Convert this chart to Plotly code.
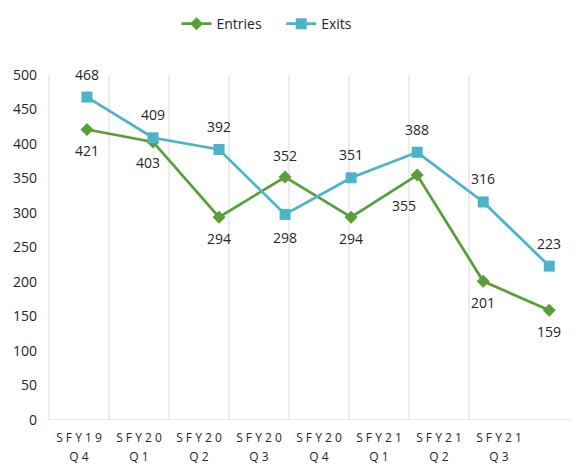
import plotly.graph_objects as go

cat_line1 = ["SFY19", "SFY20", "SFY20", "SFY20", "SFY20", "SFY21", "SFY21", "SFY21"]
cat_line2 = ["Q4", "Q1", "Q2", "Q3", "Q4", "Q1", "Q2", "Q3"]
entries = [421, 403, 294, 352, 294, 355, 201, 159]
exits = [468, 409, 392, 298, 351, 388, 316, 223]
entries_side = ["below", "below", "below", "above", "below", "below", "below", "below"]
exits_side = ["above", "above", "above", "below", "above", "above", "above", "above"]
y_ticks = [0, 50, 100, 150, 200, 250, 300, 350, 400, 450, 500]

GREEN = "#5A9E38"
TEAL = "#4BB5C8"
TXT = "#262626"
LBL_FONT = dict(size=14, color=TXT, family="Open Sans")

def spaced(s):
    return " ".join(s)

idx = list(range(len(cat_line1)))

fig = go.Figure()
fig.add_trace(go.Scatter(
    x=idx, y=entries, name="Entries\u00a0\u00a0\u00a0\u00a0", mode="lines+markers",
    line=dict(color=GREEN, width=2.75), marker=dict(symbol="diamond", size=10, color=GREEN),
    cliponaxis=False))
fig.add_trace(go.Scatter(
    x=idx, y=exits, name="Exits", mode="lines+markers",
    line=dict(color=TEAL, width=2.75), marker=dict(symbol="square", size=11, color=TEAL),
    cliponaxis=False))

# data labels
for i in idx:
    dx = -13 if i == 5 else (-5 if i == 1 else 0)
    dy = -30 if i == 5 else (22 if entries_side[i] == "above" else -21)
    fig.add_annotation(x=i, y=entries[i], text=str(entries[i]), showarrow=False,
                       xshift=dx, yshift=dy, font=LBL_FONT)
    fig.add_annotation(x=i, y=exits[i], text=str(exits[i]), showarrow=False,
                       yshift=23 if exits_side[i] == "above" else -23, font=LBL_FONT)

fig.update_layout(
    width=572, height=461, paper_bgcolor="white", plot_bgcolor="white",
    margin=dict(l=40, r=3, t=67, b=49, autoexpand=False),
    font=dict(family="Open Sans", color=TXT),
    showlegend=True,
    legend=dict(orientation="h", x=0.414, xanchor="center", y=1.194, yanchor="top",
                font=dict(size=14, color=TXT), itemwidth=30, tracegroupgap=0),
    xaxis=dict(range=[-0.59, 7.42], showgrid=False, showticklabels=False,
               zeroline=False, showline=False, ticks="", automargin=False),
    xaxis2=dict(overlaying="x", side="bottom", range=[-0.517, 8.3],
                tickmode="array", tickvals=idx, ticktext=[spaced(c) for c in cat_line1],
                showgrid=False, showline=False, zeroline=False, ticks="", automargin=False,
                ticklabelstandoff=9,
                tickfont=dict(size=12, color=TXT, family="Open Sans")),
    xaxis3=dict(overlaying="x", side="bottom", range=[-0.517, 8.3],
                tickmode="array", tickvals=idx, ticktext=[spaced(c) for c in cat_line2],
                showgrid=False, showline=False, zeroline=False, ticks="", automargin=False,
                ticklabelstandoff=28,
                tickfont=dict(size=12, color=TXT, family="Open Sans")),
    yaxis=dict(range=[0, 500], tickvals=y_ticks, showgrid=False, zeroline=False,
               showline=False, ticks="", tickfont=dict(size=14, color=TXT),
               ticklabelstandoff=10, automargin=False),
)
for ax in ("x2", "x3"):
    fig.add_trace(go.Scatter(x=[-0.5], y=[0], xaxis=ax, mode="markers",
                             marker=dict(opacity=0), showlegend=False, hoverinfo="skip"))
for k in idx:
    fig.add_shape(type="line", xref="x2", yref="y", x0=k - 0.5, x1=k - 0.5, y0=0, y1=500,
                  line=dict(color="#D9D9D9", width=1), layer="below")
fig.add_shape(type="line", xref="paper", yref="y", x0=0, x1=1, y0=0, y1=0,
              line=dict(color="#D9D9D9", width=1), layer="below")

fig.write_html("out.html")
